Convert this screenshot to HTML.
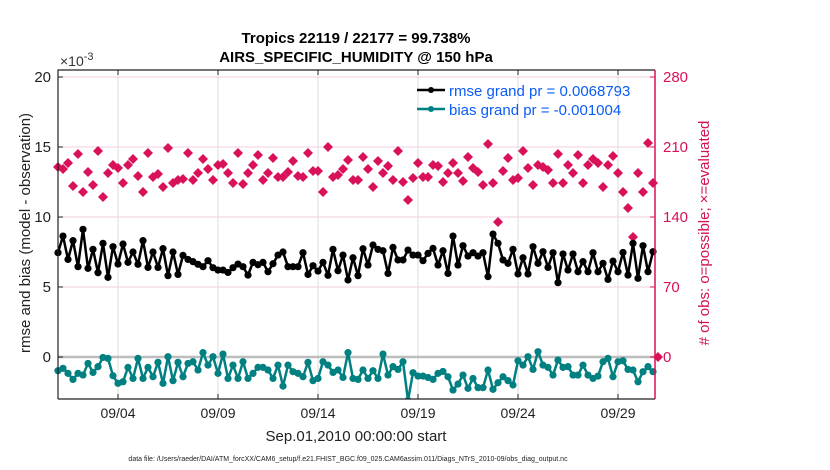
<!DOCTYPE html>
<html><head><meta charset="utf-8"><style>
body{margin:0;background:#fff;}
svg{display:block;font-family:"Liberation Sans",Arial,sans-serif;}
</style></head><body>
<svg id="chart" width="830" height="470" viewBox="0 0 830 470">
<text x="356" y="43" text-anchor="middle" font-size="15" font-weight="bold">Tropics 22119 / 22177 = 99.738%</text>
<text x="356" y="62" text-anchor="middle" font-size="15" font-weight="bold">AIRS_SPECIFIC_HUMIDITY @ 150 hPa</text>
<g id="grid"></g>
<g id="marks"></g>
<g id="axes"></g>
<text x="60" y="66" font-size="14" fill="#333">×10<tspan dy="-6" font-size="11">-3</tspan></text>
<text transform="translate(30,233) rotate(-90)" text-anchor="middle" font-size="15" fill="#222">rmse and bias (model - observation)</text>
<text transform="translate(709,233) rotate(-90)" text-anchor="middle" font-size="15" fill="#d1134f"># of obs: o=possible; ×=evaluated</text>
<text x="356" y="441" text-anchor="middle" font-size="15" fill="#222">Sep.01,2010 00:00:00 start</text>
<text x="348" y="461" text-anchor="middle" font-size="7" fill="#222">data file: /Users/raeder/DAI/ATM_forcXX/CAM6_setup/f.e21.FHIST_BGC.f09_025.CAM6assim.011/Diags_NTrS_2010-09/obs_diag_output.nc</text>
<g>
<line x1="417" y1="90" x2="445" y2="90" stroke="#000" stroke-width="2.5"/>
<circle cx="431" cy="90" r="3" fill="#000"/>
<text x="449" y="96" font-size="15" fill="#0a5cf5">rmse grand pr = 0.0068793</text>
<line x1="417" y1="109" x2="445" y2="109" stroke="#008080" stroke-width="2.5"/>
<circle cx="431" cy="109" r="3" fill="#008080"/>
<text x="449" y="115" font-size="15" fill="#0a5cf5">bias grand pr = -0.001004</text>
</g>
</svg>
<script>
const rmse = [7.45,8.64,6.97,8.31,6.45,9.12,6.33,7.69,6.02,8.12,5.69,7.88,6.64,8.07,6.76,7.50,6.62,8.31,6.40,7.50,6.40,7.74,5.81,7.50,5.90,7.26,6.97,6.81,6.62,6.45,6.88,6.38,6.21,6.21,6.04,6.38,6.64,6.45,5.85,6.76,6.59,6.76,6.09,6.66,7.28,7.50,6.45,6.45,6.45,7.45,5.90,6.52,6.14,6.76,5.83,7.69,6.16,7.28,5.50,7.09,5.81,
7.73,6.57,8.0,7.69,7.59,5.97,7.83,6.93,6.93,7.64,7.28,7.28,6.88,7.40,7.76,6.57,7.59,5.97,8.64,6.57,7.95,7.21,7.45,7.21,7.45,5.74,8.78,8.12,6.93,6.69,7.69,5.93,7.09,5.93,7.88,6.69,7.52,6.40,7.45,5.31,7.36,6.21,7.36,6.09,6.81,6.09,7.45,6.09,6.69,5.54,6.85,6.09,7.47,5.85,8.12,5.62,7.95,6.09,7.52];
const bias = [-0.98,-0.81,-1.17,-1.6,-1.17,-1.29,-0.46,-1.10,-0.69,-0.03,-0.10,-1.34,-1.88,-1.77,-0.74,-1.53,-0.10,-1.53,-0.74,-1.41,-0.38,-1.88,0.02,-1.69,-0.38,-1.41,-0.46,-0.34,-0.93,0.31,-0.58,0.02,-1.17,0.21,-1.53,-0.58,-1.53,-0.34,-1.53,-1.17,-0.74,-0.74,-0.93,-1.53,-0.58,-2.08,-0.58,-1.05,-1.17,-1.41,-0.38,-1.69,-1.53,-0.34,-0.58,-1.10,-0.93,-1.46,0.31,-1.53,-1.60,
-0.93,-1.53,-0.98,-1.53,0.21,-1.29,-0.69,-0.89,-0.34,-3.1,-1.12,-1.36,-1.36,-1.46,-1.60,-1.17,-1.03,-1.41,-2.36,-1.93,-1.29,-2.24,-1.53,-2.19,-2.19,-0.93,-2.31,-1.84,-1.41,-1.69,-2.0,-0.27,-0.58,0.02,-0.89,0.38,-0.58,-0.74,-1.29,-0.22,-0.74,-0.69,-1.29,-1.29,-0.58,-1.29,-1.53,-1.36,-0.34,-0.10,-1.41,-0.34,-0.27,-0.89,-0.93,-1.77,-1.05,-0.69,-1.05];
const obsCount = [190,188,194,171,203,165,185,172,206,160,184,192,189,174,192,198,181,165,204,180,183,170,209,174,177,178,204,177,184,198,188,177,192,193,184,174,204,173,184,192,202,177,184,199,180,180,185,196,181,180,204,186,186,165,210,180,182,188,197,177,177,
200,188,170,196,184,191,177,206,175,157,179,194,180,180,192,191,175,184,194,184,176,200,189,185,172,213,174,135,186,199,177,179,206,189,172,192,190,187,174,203,174,192,184,202,174,192,198,194,170,192,201,184,165,149,120,184,165,214,174,0];
const leftTicks = [0,5,10,15,20];
const rightTicks = [0,70,140,210,280];
const xTickDays = [3,8,13,18,23,28];
const xTickLabels = ["09/04","09/09","09/14","09/19","09/24","09/29"];
const stepsPerDay = 4;

const L=58,R=655,T=70,B=399;
const xDomain=[0,29.85];
const yDomain=[-3,20.5];
const y2Domain=[-42,287];
const X=d=>L+(d-xDomain[0])/(xDomain[1]-xDomain[0])*(R-L);
const Y=v=>B-(v-yDomain[0])/(yDomain[1]-yDomain[0])*(B-T);
const Y2=v=>B-(v-y2Domain[0])/(y2Domain[1]-y2Domain[0])*(B-T);
const NS="http://www.w3.org/2000/svg";
function mk(tag,attrs,parent){const e=document.createElementNS(NS,tag);for(const k in attrs)e.setAttribute(k,attrs[k]);parent.appendChild(e);return e;}
const grid=document.getElementById('grid'),marks=document.getElementById('marks'),axes=document.getElementById('axes');

leftTicks.forEach(v=>{if(v!==0){const g=mk('line',{x1:L,x2:R,y1:Y(v),y2:Y(v),stroke:'#f2cfe0','stroke-width':1},grid);

}});
xTickDays.forEach(d=>{const g=mk('line',{x1:X(d),x2:X(d),y1:T,y2:B,stroke:'#dcdcdc','stroke-width':1},grid);

});
const z=mk('line',{x1:L,x2:R,y1:Y(0),y2:Y(0),stroke:'#bdbdbd','stroke-width':2.5},grid);



obsCount.forEach((v,i)=>{const cx=X(i/stepsPerDay),cy=Y2(v);
const m=mk('path',{d:`M${cx} ${cy-5}L${cx+5} ${cy}L${cx} ${cy+5}L${cx-5} ${cy}Z`,fill:'#d9105a'},marks);

});

function series(vals,color,name){
const p=mk('polyline',{points:vals.map((v,i)=>X(i/stepsPerDay)+','+Y(v)).join(' '),fill:'none',stroke:color,'stroke-width':2.5,'stroke-linejoin':'round'},marks);


vals.forEach((v,i)=>{const c=mk('circle',{cx:X(i/stepsPerDay),cy:Y(v),r:3.6,fill:color},marks);

});}
series(bias,'#008080','bias');
series(rmse,'#000000','rmse');

const cov=mk('rect',{x:L-5,y:B,width:R-L+10,height:8,fill:'#fff'},axes);


const fr=mk('path',{d:`M${L} ${B}L${L} ${T}L${R} ${T}M${L} ${B}L${R} ${B}`,fill:'none',stroke:'#222','stroke-width':1.2},axes);


const ra=mk('line',{x1:R,x2:R,y1:T,y2:B,stroke:'#d9105a','stroke-width':1.5},axes);


leftTicks.forEach(v=>{mk('line',{x1:L,x2:L+5,y1:Y(v),y2:Y(v),stroke:'#222'},axes);
const t=mk('text',{x:L-7,y:Y(v)+5,'text-anchor':'end','font-size':15,fill:'#222'},axes);t.textContent=v;

});
rightTicks.forEach(v=>{mk('line',{x1:R-5,x2:R,y1:Y2(v),y2:Y2(v),stroke:'#d9105a'},axes);
const t=mk('text',{x:R+8,y:Y2(v)+5,'font-size':15,fill:'#d9105a'},axes);t.textContent=v;

});
xTickDays.forEach((d,i)=>{mk('line',{x1:X(d),x2:X(d),y1:B,y2:B-5,stroke:'#222'},axes);mk('line',{x1:X(d),x2:X(d),y1:T,y2:T+5,stroke:'#222'},axes);
const t=mk('text',{x:X(d),y:B+19,'text-anchor':'middle','font-size':14,fill:'#222'},axes);t.textContent=xTickLabels[i];

});
</script>
</body></html>
